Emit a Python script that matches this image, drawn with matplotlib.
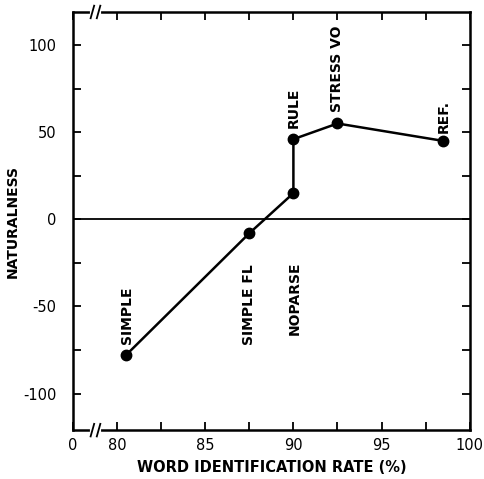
import numpy as np
import matplotlib.pyplot as plt
from matplotlib.ticker import FixedLocator

plt.rcParams["axes.unicode_minus"] = False

# data
systems = ["SIMPLE", "SIMPLE FL", "NOPARSE", "RULE", "STRESS VO", "REF."]
word_rate = [80.5, 87.5, 90.0, 90.0, 92.5, 98.5]
naturalness = [-78, -8, 15, 46, 55, 45]
# label offsets in points (dx, dy); negative dy -> label hangs below point
label_offset = [(1, 8), (0, -22), (1, -49), (0, 8), (0, 8), (0, 6)]

x_ticks = [77.5, 80, 85, 90, 95, 100]
x_ticklabels = ["0", "80", "85", "90", "95", "100"]
x_minor = [82.5, 87.5, 92.5, 97.5]
y_ticks = [-100, -50, 0, 50, 100]

fig = plt.figure(figsize=(4.85, 4.79), dpi=100)
ax = fig.add_axes([0.1505, 0.102, 0.818, 0.873])

ax.axhline(0, color="black", lw=1.3, zorder=1)
ax.plot(word_rate, naturalness, color="black", lw=1.8, marker="o",
        markersize=7.5, zorder=3)

for name, x, y, (dx, dy) in zip(systems, word_rate, naturalness, label_offset):
    ax.annotate(name, (x, y), xytext=(dx, dy), textcoords="offset points",
                rotation=90, ha="center", va="top" if dy < 0 else "bottom",
                fontsize=10, fontweight="bold", annotation_clip=False)

ax.set_xlim(77.5, 100)
ax.set_ylim(-121, 119)
ax.xaxis.set_major_locator(FixedLocator(x_ticks))
ax.set_xticklabels(x_ticklabels)
ax.xaxis.set_minor_locator(FixedLocator(x_minor))
ax.set_yticks(y_ticks)
ax.yaxis.set_minor_locator(FixedLocator([-75, -25, 25, 75]))
ax.tick_params(which="both", direction="in", top=True, right=True,
               width=1.3, labelsize=10.5, length=6)
ax.tick_params(axis="y", pad=12)
ax.tick_params(axis="x", pad=6)
for s in ax.spines.values():
    s.set_linewidth(1.8)

ax.set_xlabel("WORD IDENTIFICATION RATE (%)", fontsize=10.5,
              fontweight="bold", labelpad=5)
ax.set_ylabel("NATURALNESS", fontsize=10, fontweight="bold")
ax.yaxis.set_label_coords(-0.135, 0.5)

# axis break marks on top and bottom spines
for yb in (0.0, 1.0):
    trans = ax.get_xaxis_transform()
    ax.plot([78.55, 78.95], [yb, yb], color="white", lw=3,
            transform=trans, clip_on=False, zorder=5)
    for xo in (78.5, 78.85):
        ax.plot([xo, xo + 0.2], [yb - 0.015, yb + 0.015], color="black",
                lw=1.3, transform=trans, clip_on=False, zorder=6)

fig.savefig("out.png", dpi=100)
